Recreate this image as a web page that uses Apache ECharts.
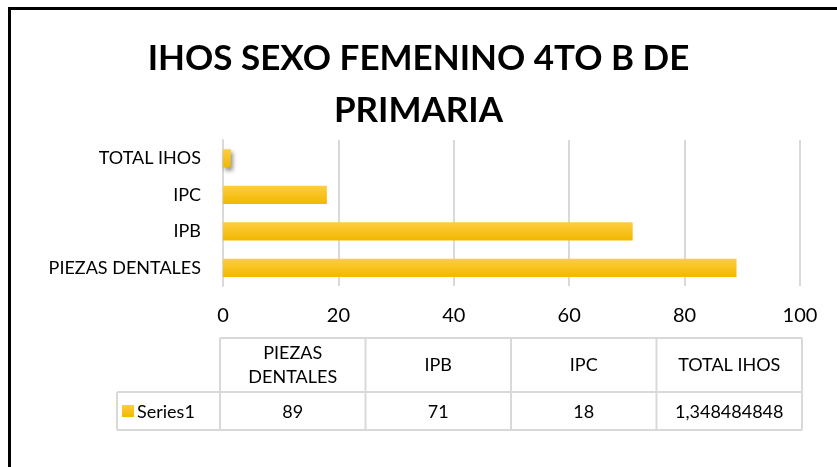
<!DOCTYPE html>
<html>
<head>
<meta charset="utf-8">
<script src="https://cdn.jsdelivr.net/npm/echarts@6/dist/echarts.min.js"></script>
<style>
  html, body { margin: 0; padding: 0; background: #fff; }
  #frame { position: absolute; left: 8px; top: 7px; width: 840px; height: 470px;
           border-left: 3px solid #000; border-top: 3px solid #000; }
  #chart { position: absolute; left: 0; top: 0; width: 837px; height: 467px; }
</style>
</head>
<body>
<div id="frame"></div>
<div id="chart"></div>
<script>
  // datos
  const categories = ['PIEZAS DENTALES', 'IPB', 'IPC', 'TOTAL IHOS']
  const series1 = [89, 71, 18, 1.348484848]
  const xTicks = [0, 20, 40, 60, 80, 100]
  const seriesName = 'Series1'
  const headerLabels = ['PIEZAS\nDENTALES', 'IPB', 'IPC', 'TOTAL IHOS']

  const font = 'Lato, "Open Sans", sans-serif'
  const barColor = new echarts.graphic.LinearGradient(0, 0, 0, 1, [
    { offset: 0, color: '#ffcd3f' },
    { offset: 1, color: '#f1b800' }
  ])

  const chart = echarts.init(document.getElementById('chart'), null, { renderer: 'canvas' })
  chart.setOption({
    animation: false,
    title: {
      text: 'IHOS SEXO FEMENINO 4TO B DE\nPRIMARIA',
      left: 'center',
      top: 28,
      textStyle: { fontFamily: font, fontSize: 35, fontWeight: 'bold', color: '#000', lineHeight: 52 }
    },
    grid: { left: 223, right: 37, top: 140, bottom: 181 },
    xAxis: {
      type: 'value',
      min: xTicks[0],
      max: xTicks[xTicks.length - 1],
      interval: 20,
      axisLine: { show: false },
      axisTick: { show: false },
      axisLabel: { fontFamily: font, fontSize: 20, color: '#000', margin: 20 },
      splitLine: { lineStyle: { color: '#d9d9d9', width: 2 } }
    },
    yAxis: {
      type: 'category',
      data: categories,
      axisLine: { lineStyle: { color: '#d9d9d9', width: 2 } },
      axisTick: { show: false },
      axisLabel: { fontFamily: font, fontSize: 18, color: '#000', margin: 22 }
    },
    series: [{
      name: seriesName,
      type: 'bar',
      data: series1,
      barWidth: '50%',
      itemStyle: {
        color: barColor,
        shadowColor: 'rgba(0,0,0,0.45)',
        shadowBlur: 4,
        shadowOffsetX: 2,
        shadowOffsetY: 3
      }
    }]
  })

  // tabla de datos debajo del eje, columnas alineadas con el area del grafico
  const x0 = chart.convertToPixel({ xAxisIndex: 0 }, xTicks[0]) - 3
  const x1 = chart.convertToPixel({ xAxisIndex: 0 }, xTicks[xTicks.length - 1]) + 2
  const colW = (x1 - x0) / categories.length
  const tTop = 338, tMid = 392, tBot = 430, tLeft = 117
  const lineStyle = { stroke: '#d9d9d9', lineWidth: 2 }
  const g = []
  // lineas horizontales
  g.push({ type: 'line', shape: { x1: x0, y1: tTop, x2: x1, y2: tTop }, style: lineStyle })
  g.push({ type: 'line', shape: { x1: tLeft, y1: tMid, x2: x1, y2: tMid }, style: lineStyle })
  g.push({ type: 'line', shape: { x1: tLeft, y1: tBot, x2: x1, y2: tBot }, style: lineStyle })
  g.push({ type: 'line', shape: { x1: tLeft, y1: tMid, x2: tLeft, y2: tBot }, style: lineStyle })
  for (let i = 0; i <= categories.length; i++) {
    const x = x0 + colW * i
    g.push({ type: 'line', shape: { x1: x, y1: tTop, x2: x, y2: tBot }, style: lineStyle })
  }
  for (let i = 0; i < categories.length; i++) {
    const cx = x0 + colW * (i + 0.5)
    g.push({
      type: 'text', x: cx, y: (tTop + tMid) / 2,
      style: { text: headerLabels[i], fontFamily: font, fontSize: 18, fill: '#000',
               align: 'center', verticalAlign: 'middle', lineHeight: 24 }
    })
    g.push({
      type: 'text', x: cx, y: (tMid + tBot) / 2 + 1,
      style: { text: String(series1[i]).replace('.', ','), fontFamily: font, fontSize: 18, fill: '#000',
               align: 'center', verticalAlign: 'middle' }
    })
  }
  g.push({ type: 'rect', shape: { x: 122, y: 405, width: 12, height: 12 }, style: { fill: barColor } })
  g.push({
    type: 'text', x: 137, y: (tMid + tBot) / 2 + 1,
    style: { text: seriesName, fontFamily: font, fontSize: 18, fill: '#000', align: 'left', verticalAlign: 'middle' }
  })
  chart.setOption({ graphic: g })
</script>
</body>
</html>
